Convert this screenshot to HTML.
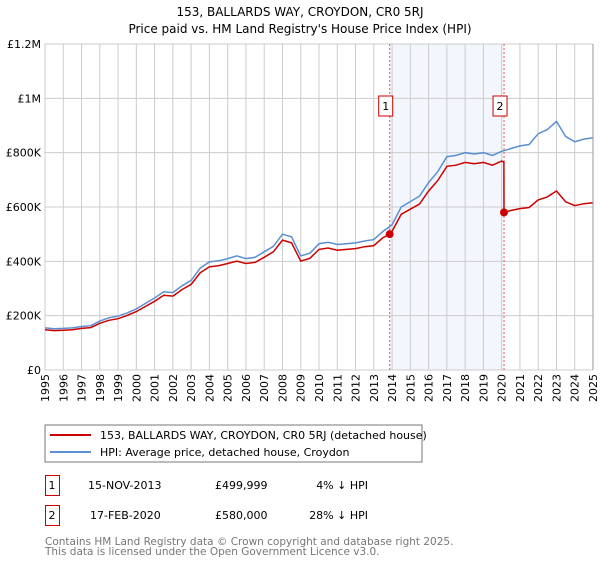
<!DOCTYPE html>
<html><head><meta charset="utf-8"><style>
body{margin:0;background:#fff;width:600px;height:560px;overflow:hidden;font-family:"DejaVu Sans","Liberation Sans",sans-serif;}
svg text{font-family:"DejaVu Sans","Liberation Sans",sans-serif;}
</style></head><body>
<svg id="c" width="600" height="560" viewBox="0 0 600 560">
<text x="300" y="16" font-size="12" text-anchor="middle">153, BALLARDS WAY, CROYDON, CR0 5RJ</text>
<text x="300" y="33" font-size="12" text-anchor="middle">Price paid vs. HM Land Registry's House Price Index (HPI)</text>
<g id="grid"></g><g id="marks"></g>
<rect x="45" y="425" width="377" height="37" fill="none" stroke="#777"/>
<line x1="50" y1="435" x2="91" y2="435" stroke="#cc0000" stroke-width="2"/>
<text x="100" y="439" font-size="11">153, BALLARDS WAY, CROYDON, CR0 5RJ (detached house)</text>
<line x1="50" y1="452" x2="91" y2="452" stroke="#5b8fd0" stroke-width="2"/>
<text x="100" y="456" font-size="11">HPI: Average price, detached house, Croydon</text>
<g>
<rect x="45.5" y="475.5" width="14" height="20" fill="none" stroke="#cc0000"/>
<text x="52" y="489" font-size="11" text-anchor="middle">1</text>
<text x="88" y="489" font-size="11">15-NOV-2013</text>
<text x="215" y="489" font-size="11">£499,999</text>
<text x="368" y="489" font-size="11" text-anchor="end">4% ↓ HPI</text></g>
<g>
<rect x="45.5" y="505.5" width="14" height="20" fill="none" stroke="#cc0000"/>
<text x="52" y="519" font-size="11" text-anchor="middle">2</text>
<text x="90" y="519" font-size="11">17-FEB-2020</text>
<text x="215" y="519" font-size="11">£580,000</text>
<text x="368" y="519" font-size="11" text-anchor="end">28% ↓ HPI</text></g>
<text x="45" y="545" font-size="10.5" fill="#777">Contains HM Land Registry data © Crown copyright and database right 2025.</text>
<text x="45" y="555" font-size="10.5" fill="#777">This data is licensed under the Open Government Licence v3.0.</text>
</svg>
<script>
const hpiDates=[1995,1995.5,1996,1996.5,1997,1997.5,1998,1998.5,1999,1999.5,2000,2000.5,2001,2001.5,2002,2002.5,2003,2003.5,2004,2004.5,2005,2005.5,2006,2006.5,2007,2007.5,2008,2008.5,2009,2009.5,2010,2010.5,2011,2011.5,2012,2012.5,2013,2013.5,2014,2014.5,2015,2015.5,2016,2016.5,2017,2017.5,2018,2018.5,2019,2019.5,2020,2020.5,2021,2021.5,2022,2022.5,2023,2023.5,2024,2024.5,2025];
const hpiValues=[155,152,153,155,160,163,180,192,198,210,225,245,265,288,285,310,330,375,398,402,410,420,410,415,435,455,500,490,420,430,465,470,462,465,468,475,480,510,535,600,620,640,690,730,785,790,800,795,800,790,805,815,825,830,870,885,915,860,840,850,855];
const priceDates=[1995,1995.5,1996,1996.5,1997,1997.5,1998,1998.5,1999,1999.5,2000,2000.5,2001,2001.5,2002,2002.5,2003,2003.5,2004,2004.5,2005,2005.5,2006,2006.5,2007,2007.5,2008,2008.5,2009,2009.5,2010,2010.5,2011,2011.5,2012,2012.5,2013,2013.5,2013.87,2014,2014.5,2015,2015.5,2016,2016.5,2017,2017.5,2018,2018.5,2019,2019.5,2020,2020.12,2020.13,2020.5,2021,2021.5,2022,2022.5,2023,2023.5,2024,2024.5,2025];
const priceValues=[148,145,146,148,153,156,172,183,189,201,215,234,253,275,272,296,315,358,380,384,392,401,392,396,415,435,478,468,401,411,444,449,441,444,447,454,458,487,500,511,573,592,611,659,697,750,754,764,759,764,754,769,765,580,587,594,598,626,637,659,619,605,612,616];
const saleDates=[2013.87,2020.13];
const saleValues=[500,580];
const saleLabels=["1","2"];
const yTicks=[0,200,400,600,800,1000,1200];
const yTickLabels=["£0","£200K","£400K","£600K","£800K","£1M","£1.2M"];
const years=[1995,1996,1997,1998,1999,2000,2001,2002,2003,2004,2005,2006,2007,2008,2009,2010,2011,2012,2013,2014,2015,2016,2017,2018,2019,2020,2021,2022,2023,2024,2025];
const X0=45,X1=593,Y0=370,Y1=44;
const xs=d=>X0+(d-1995)/30*(X1-X0);
const ys=v=>Y0-v/1200*(Y0-Y1);
const NS="http://www.w3.org/2000/svg";
function mk(tag,attrs,parent){const e=document.createElementNS(NS,tag);for(const k in attrs)e.setAttribute(k,attrs[k]);parent.appendChild(e);return e;}
const grid=document.getElementById('grid'),marks=document.getElementById('marks');
let sh=mk('rect',{x:xs(saleDates[0]),y:Y1,width:xs(saleDates[1])-xs(saleDates[0]),height:Y0-Y1,fill:'#eef2fc',opacity:0.7},grid);


years.forEach(y=>{
 const l=mk('line',{x1:xs(y),x2:xs(y),y1:Y1,y2:Y0,stroke:'#ccc'},grid);
 
 
 const t=mk('text',{transform:`translate(${xs(y)+4},${Y0+4}) rotate(-90)`,'font-size':11,'text-anchor':'end'},grid);
 t.textContent=y;
 
 
});
yTicks.forEach((v,i)=>{
 const l=mk('line',{x1:X0,x2:X1,y1:ys(v),y2:ys(v),stroke:'#ccc'},grid);
 
 
 const t=mk('text',{x:X0-4,y:ys(v)+4,'font-size':11,'text-anchor':'end'},grid);
 t.textContent=yTickLabels[i];
 
 
});
saleDates.forEach((d,i)=>{
 const l=mk('line',{x1:xs(d),x2:xs(d),y1:Y1,y2:Y0,stroke:'#ee5555','stroke-dasharray':'2,2'},marks);
 
 
});
const pts=(ds,vs)=>ds.map((d,i)=>xs(d).toFixed(1)+','+ys(vs[i]).toFixed(1)).join(' ');
const hl=mk('polyline',{points:pts(hpiDates,hpiValues),fill:'none',stroke:'#5b8fd0','stroke-width':1.5},marks);


const pl=mk('polyline',{points:pts(priceDates,priceValues),fill:'none',stroke:'#cc0000','stroke-width':1.5},marks);


saleDates.forEach((d,i)=>{
 const c=mk('circle',{cx:xs(d),cy:ys(saleValues[i]),r:4,fill:'#cc0000'},marks);
 
 
 const bx=xs(d)-10;
 const r=mk('rect',{x:bx-1,y:96,width:14,height:20,fill:'#fff',stroke:'#cc0000'},marks);
 
 
 const t=mk('text',{x:bx+6,y:110,'font-size':11,'text-anchor':'middle'},marks);
 t.textContent=saleLabels[i];
 
 
});
const ax=mk('line',{x1:X1,x2:X1,y1:Y1,y2:Y0,stroke:'#999'},marks);


</script>
</body></html>
